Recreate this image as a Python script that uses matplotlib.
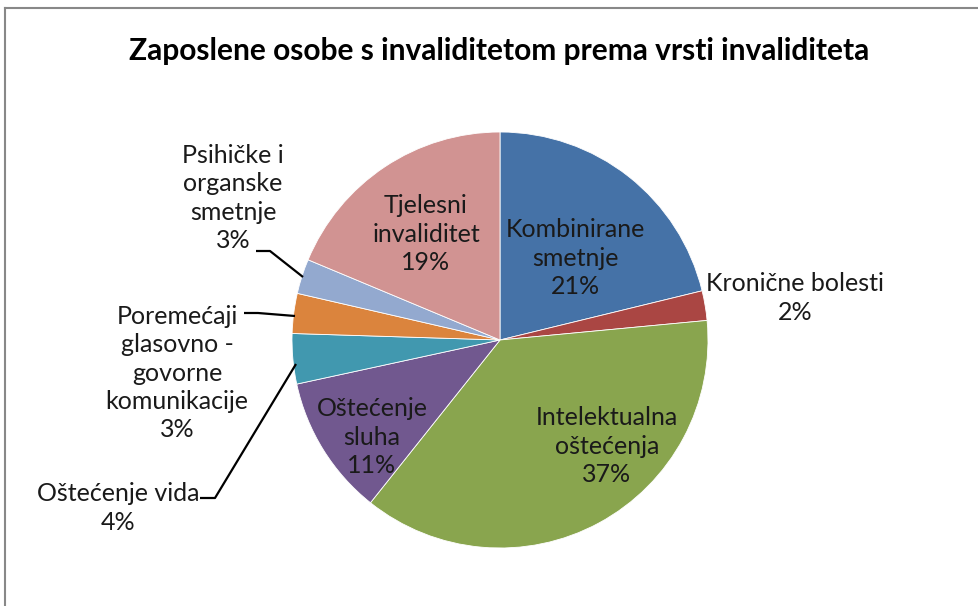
import matplotlib.pyplot as plt
from matplotlib.lines import Line2D

# Data
categories = ['Kombinirane\nsmetnje', 'Kronične bolesti', 'Intelektualna\noštećenja',
              'Oštećenje\nsluha', 'Oštećenje vida', 'Poremećaji\nglasovno -\ngovorne\nkomunikacije',
              'Psihičke i\norganske\nsmetnje', 'Tjelesni\ninvaliditet']
values = [21.2, 2.3, 37.2, 10.9, 3.9, 3.1, 2.7, 18.7]
pct_labels = ['21%', '2%', '37%', '11%', '4%', '3%', '3%', '19%']
colors = ['#4572A7', '#AA4643', '#89A54E', '#71588F', '#4198AF', '#DB843D', '#93A9CF', '#D19392']

W, H = 979, 606
CX, CY, R = 500, 340, 208

def px(x, y):
    return (x - CX) / R, (CY - y) / R

fig = plt.figure(figsize=(W / 100, H / 100), dpi=100)
ax = fig.add_axes([0, 0, 1, 1])

ax.pie(values, colors=colors, startangle=90, counterclock=False, radius=1,
       wedgeprops=dict(linewidth=0.6, edgecolor='white'))
ax.set_xlim(-CX / R, (W - CX) / R)
ax.set_ylim(-(H - CY) / R, CY / R)
ax.set_aspect('auto')
ax.axis('off')

font = 'Lato'
tcol = '#1a1a1a'
fs = 18

# label positions (pixel centres)
label_pos = [(575, 258), (795, 298), (607, 446), (372, 437),
             (118, 508), (177, 373), (233, 198), (426, 234)]
for cat, pc, (x, y) in zip(categories, pct_labels, label_pos):
    ax.text(*px(x, y), cat + '\n' + pc, ha='center', va='center', fontsize=fs,
            family=font, color=tcol, linespacing=1.28)

# leader lines
leaders = [
    [(256, 251), (270, 251), (303, 277)],
    [(244, 313), (258, 313), (295, 316)],
    [(200, 498), (215, 498), (296, 364)],
]
for pts in leaders:
    xs, ys = zip(*[px(x, y) for x, y in pts])
    ax.plot(xs, ys, color='black', lw=1.6, solid_capstyle='butt')

# title
fig.text(499 / W, 1 - 51 / H, 'Zaposlene osobe s invaliditetom prema vrsti invaliditeta',
         ha='center', va='center', fontsize=21.5, fontweight='bold', family=font, color='black')

# chart frame (left and top edges visible)
fig.add_artist(Line2D([5 / W, 5 / W], [0, 1 - 8 / H], transform=fig.transFigure, color='#888888', lw=1.5))
fig.add_artist(Line2D([5 / W, 1], [1 - 8 / H, 1 - 8 / H], transform=fig.transFigure, color='#888888', lw=1.5))

fig.savefig('out.png', dpi=100)
